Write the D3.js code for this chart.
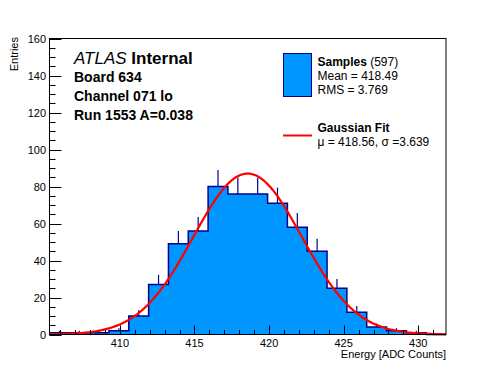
<!DOCTYPE html>
<html><head><meta charset="utf-8">
<script src="https://cdn.jsdelivr.net/npm/d3@7"></script>
<style>body{margin:0;background:#fff}svg{display:block}text{font-family:"Liberation Sans",Arial,Helvetica,sans-serif;fill:#000}</style>
</head><body>
<script>
// ---- data ----
const binCounts = [1,1,1,2,10,27,49,56,80,76,76,71,58,45,25,12,4,2,1,0];
const xRange = [405.28, 431.86];
const yRange = [0, 160];
const xMajorTicks = [410,415,420,425,430];
const yMajorTicks = [0,20,40,60,80,100,120,140,160];
const fitMu = 418.56, fitSigma = 3.639;
const infoLines = ["Board 634","Channel 071 lo","Run 1553 A=0.038"];
const legendSamples = ["Mean = 418.49","RMS = 3.769"];
const entriesTotal = 597;

const W=496,H=372;
const m={l:49.5,r:446,t:38.5,b:334.5};
const svg=d3.select("body").append("svg").attr("width",W).attr("height",H);
const x=d3.scaleLinear().domain(xRange).range([m.l,m.r]);
const y=d3.scaleLinear().domain(yRange).range([m.b,m.t]);
const nb=binCounts.length, bw=(xRange[1]-xRange[0])/nb;
const bins=binCounts.map((v,i)=>({x0:xRange[0]+i*bw,x1:xRange[0]+(i+1)*bw,v}));

const fill="#0096ff", edge="#00008f";
// histogram fill + outline
const pts=[];
bins.forEach(b=>{pts.push([b.x0,b.v]);pts.push([b.x1,b.v]);});
const area=d3.area().x(d=>x(d[0])).y0(y(0)).y1(d=>y(d[1]));
svg.append("path").attr("d",area(pts)).attr("fill",fill);
const line=d3.line().x(d=>x(d[0])).y(d=>y(d[1]));
svg.append("path").attr("d",line(pts)).attr("fill","none").attr("stroke",edge).attr("stroke-width",1.5);
// error bars (upper part)
svg.append("g").selectAll("line").data(bins.filter(b=>b.v>0)).join("line")
  .attr("x1",b=>x((b.x0+b.x1)/2)).attr("x2",b=>x((b.x0+b.x1)/2))
  .attr("y1",b=>y(b.v)).attr("y2",b=>y(b.v+Math.sqrt(b.v)))
  .attr("stroke",edge).attr("stroke-width",1.2);

// gaussian fit
const amp=entriesTotal*bw/(fitSigma*Math.sqrt(2*Math.PI));
const gx=d3.range(0,401).map(i=>xRange[0]+i*(xRange[1]-xRange[0])/400);
svg.append("path").attr("d",d3.line().x(d=>x(d)).y(d=>y(amp*Math.exp(-0.5*((d-fitMu)/fitSigma)**2)))(gx))
  .attr("fill","none").attr("stroke","#ff0000").attr("stroke-width",2.2);

// frame
svg.append("rect").attr("x",m.l).attr("y",m.t).attr("width",m.r-m.l).attr("height",m.b-m.t)
  .attr("fill","none").attr("stroke","#000").attr("stroke-width",1);

// y ticks
const yMinor=d3.range(0,161,5);
svg.append("g").selectAll("line").data(yMinor).join("line")
  .attr("x1",m.l).attr("x2",d=>m.l+(d%20===0?12:6)).attr("y1",d=>Math.round(y(d))+0.5).attr("y2",d=>Math.round(y(d))+0.5)
  .attr("stroke","#000");
svg.append("g").selectAll("text").data(yMajorTicks).join("text")
  .attr("x",46).attr("y",d=>y(d)+4).attr("text-anchor","end").attr("font-size",11).text(d=>d);
// x ticks
const xMinor=d3.range(406,432,1);
svg.append("g").selectAll("line").data(xMinor).join("line")
  .attr("x1",d=>Math.round(x(d))+0.5).attr("x2",d=>Math.round(x(d))+0.5)
  .attr("y1",m.b).attr("y2",d=>m.b-(d%5===0?9:4.5)).attr("stroke","#000");
svg.append("g").selectAll("text").data(xMajorTicks).join("text")
  .attr("x",d=>x(d)).attr("y",347).attr("text-anchor","middle").attr("font-size",11).text(d=>d);

// axis titles
svg.append("text").attr("x",446).attr("y",357.5).attr("text-anchor","end").attr("font-size",11).text("Energy [ADC Counts]");
svg.append("text").attr("transform","translate(17.5,37) rotate(-90)").attr("text-anchor","end").attr("font-size",11).text("Entries");

// ATLAS label
const t=svg.append("text").attr("x",74).attr("y",63.5).attr("font-size",17);
t.append("tspan").attr("font-style","italic").text("ATLAS");
t.append("tspan").attr("font-weight","bold").text(" Internal");
infoLines.forEach((s,i)=>svg.append("text").attr("x",74).attr("y",82+i*19).attr("font-size",14).attr("font-weight","bold").text(s));

// legend
svg.append("rect").attr("x",283.5).attr("y",53.5).attr("width",28).attr("height",43).attr("fill",fill).attr("stroke",edge).attr("stroke-width",1);
const ls=svg.append("text").attr("x",317.5).attr("y",65.5).attr("font-size",12);
ls.append("tspan").attr("font-weight","bold").text("Samples");
ls.append("tspan").text(" ("+entriesTotal+")");
legendSamples.forEach((s,i)=>svg.append("text").attr("x",317.5).attr("y",79.5+i*14).attr("font-size",12).text(s));
svg.append("line").attr("x1",283).attr("x2",312).attr("y1",135.5).attr("y2",135.5).attr("stroke","#ff0000").attr("stroke-width",2);
svg.append("text").attr("x",317.5).attr("y",131.5).attr("font-size",12).attr("font-weight","bold").text("Gaussian Fit");
svg.append("text").attr("x",317.5).attr("y",145.5).attr("font-size",12).text("\u03bc = "+fitMu.toFixed(2)+", \u03c3 ="+fitSigma.toFixed(3));
</script>
</body></html>
